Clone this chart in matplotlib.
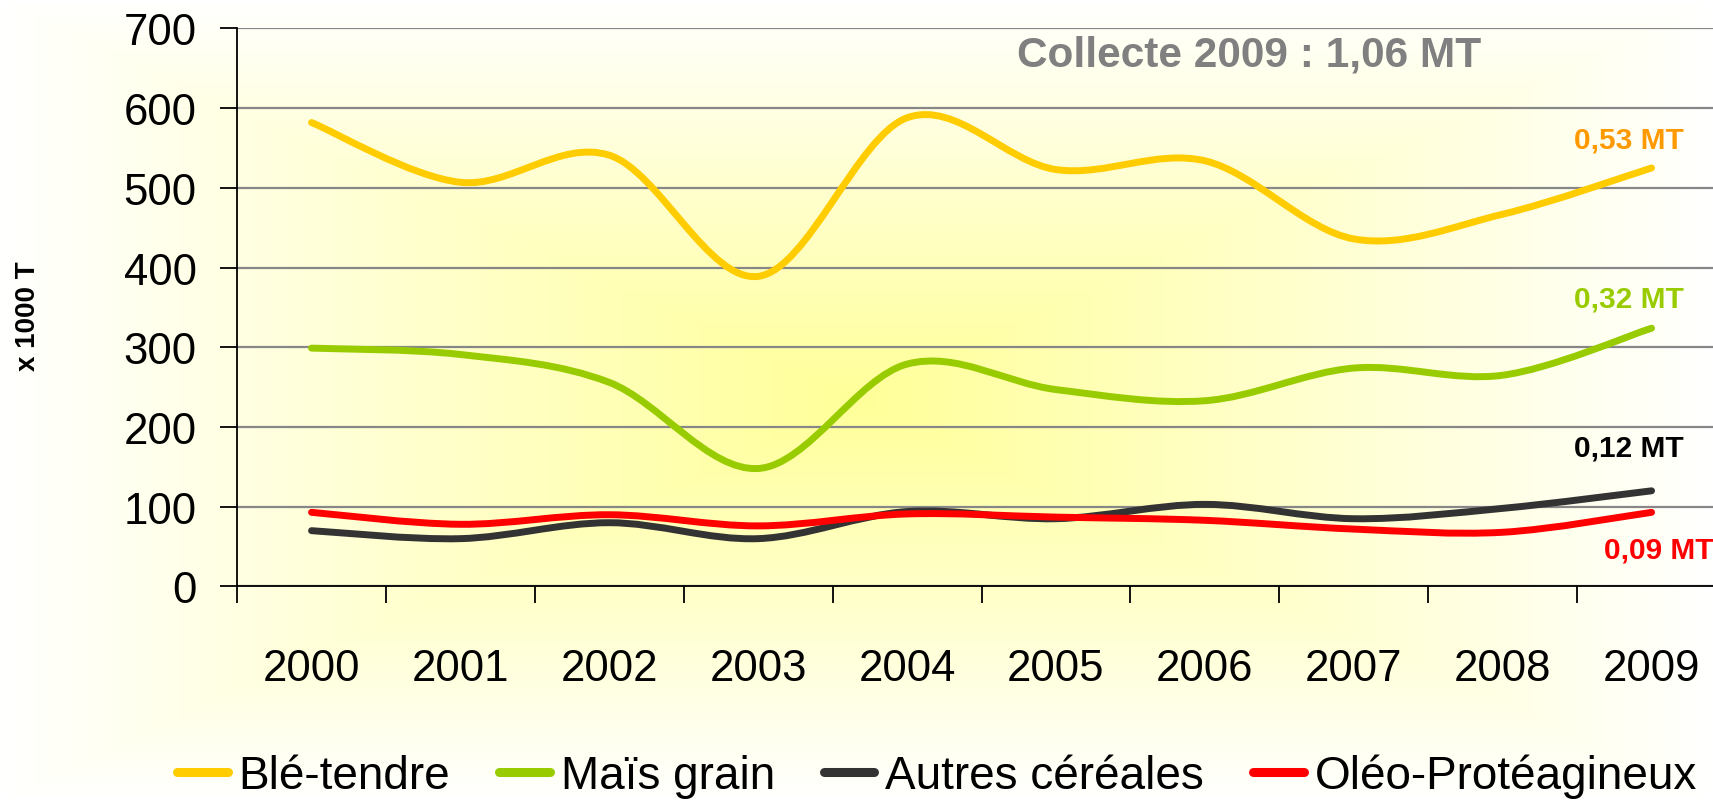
import numpy as np
import matplotlib
matplotlib.use("Agg")
from matplotlib import pyplot as plt
from matplotlib.path import Path
from matplotlib.patches import PathPatch

# Collecte par culture, en milliers de tonnes
years = ['2000', '2001', '2002', '2003', '2004', '2005', '2006', '2007', '2008', '2009']
ble_tendre = [582, 507, 541, 389, 588, 523, 534, 436, 467, 525]
mais_grain = [299, 291, 256, 148, 279, 247, 233, 274, 265, 324]
autres_cereales = [70, 60, 80, 60, 94, 85, 103, 85, 98, 120]
oleo_proteagineux = [93, 78, 90, 76, 91, 87, 83, 72, 68, 93]

series_names = ['Blé-tendre', 'Maïs grain', 'Autres céréales', 'Oléo-Protéagineux']
series_colors = ['#FFCC00', '#99CC00', '#333333', '#FF0000']
end_labels = ['0,53 MT', '0,32 MT', '0,12 MT', '0,09 MT']
end_colors = ['#FF9900', '#99CC00', '#000000', '#FF0000']
yticks = [0, 100, 200, 300, 400, 500, 600, 700]

plt.rcParams['font.family'] = ['Liberation Sans', 'DejaVu Sans']


def smooth_path(xs, ys):
    # Excel-like smoothed line: cubic Bezier segments through each point
    pts = np.column_stack([xs, ys]).astype(float)
    n = len(pts)
    verts = [pts[0]]
    codes = [Path.MOVETO]
    for i in range(n - 1):
        p0 = pts[max(i - 1, 0)]
        p1 = pts[i]
        p2 = pts[i + 1]
        p3 = pts[min(i + 2, n - 1)]
        verts += [p1 + (p2 - p0) / 6.0, p2 - (p3 - p1) / 6.0, p2]
        codes += [Path.CURVE4] * 3
    return Path(verts, codes)


fig = plt.figure(figsize=(17.13, 8.03), dpi=100)

# chart-area gradient: pale yellow in the middle, white at the edges
bg = fig.add_axes([0, 0, 1, 1], zorder=-10)
u = np.linspace(0, 1, 400)
v = np.linspace(0, 1, 200)
U, V = np.meshgrid(u, v)
t = np.maximum(np.abs(U - 0.5) / 0.5, np.abs(V - 0.5) / 0.5)
k = np.clip(1 - t, 0, 1) ** 1.0
img = np.ones((200, 400, 3))
img[..., 2] = 1 - k * (1 - 0x99 / 255)
bg.imshow(img, extent=[0, 1, 0, 1], aspect='auto', origin='lower')
bg.axis('off')

ax = fig.add_axes([0.1384, 0.2684, 0.8692, 0.6949])
ax.set_facecolor('none')

x = np.arange(len(years))
all_series = [ble_tendre, mais_grain, autres_cereales, oleo_proteagineux]
for vals, name, col in zip(all_series, series_names, series_colors):
    patch = PathPatch(smooth_path(x, vals), facecolor='none', edgecolor=col,
                      lw=5, capstyle='round', joinstyle='round', zorder=3)
    ax.add_patch(patch)
    ax.plot([], [], color=col, lw=6.5, solid_capstyle='round', label=name)

ax.set_xlim(-0.5, 9.5)
ax.set_ylim(0, 700)
ax.set_yticks(yticks)
ax.set_xticks(np.arange(-0.5, 10, 1))
ax.set_xticklabels([])
ax.set_xticks(x, minor=True)
ax.set_xticklabels(years, minor=True)
ax.tick_params(axis='x', which='minor', length=0, pad=44, labelsize=31.5)
ax.tick_params(axis='x', which='major', length=12, width=1.3, direction='out')
ax.tick_params(axis='y', length=12, width=1.3, direction='out', pad=17, labelsize=31.5)

ax.grid(axis='y', color='#878787', lw=1.6, zorder=1)
for s in ['top', 'right']:
    ax.spines[s].set_visible(False)
for s in ['left', 'bottom']:
    ax.spines[s].set_linewidth(1.3)
    ax.spines[s].set_zorder(4)

# end-of-series labels
label_pos = [(8.48, 561), (8.48, 361), (8.48, 174), (8.68, 46)]
for (lx, ly), txt, col in zip(label_pos, end_labels, end_colors):
    ax.text(lx, ly, txt, color=col, fontsize=21.5, fontweight='bold',
            ha='left', va='center', clip_on=False)

ax.text(4.735, 667, 'Collecte 2009 : 1,06 MT', color='#808080', fontsize=30.5,
        fontweight='bold', ha='left', va='center')

fig.text(28 / 1713, 1 - 316 / 803, 'x 1000 T', rotation=90, fontsize=20,
         fontweight='bold', ha='center', va='center')

fig.legend(loc='center', bbox_to_anchor=(0.547, 0.0324), ncol=4, frameon=False,
           fontsize=33, handlelength=1.1, handletextpad=0.24, columnspacing=1.07,
           borderpad=0)

fig.savefig('out.png', dpi=100)
